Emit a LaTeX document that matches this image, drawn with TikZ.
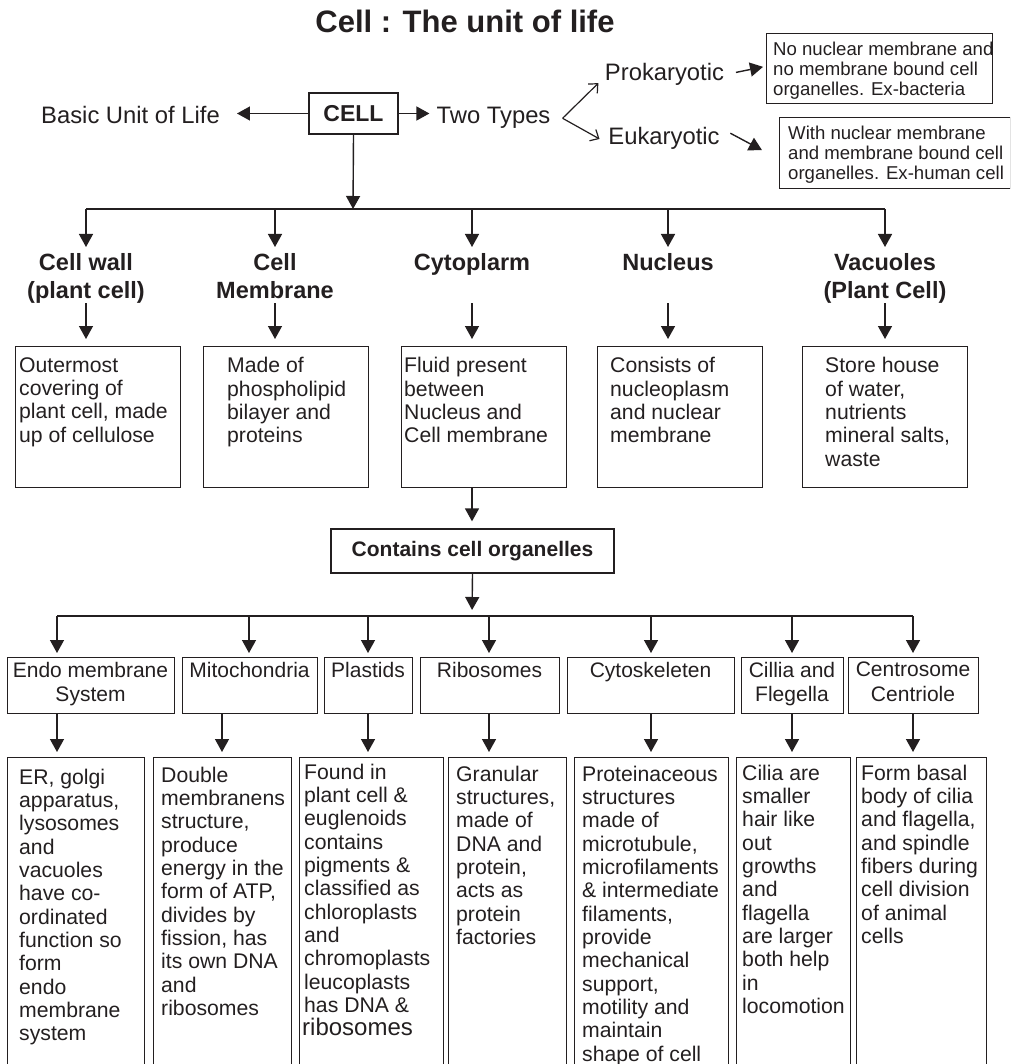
\documentclass[tikz,border=0pt]{standalone}
\usepackage{fontspec}
\setmainfont{Liberation Sans}
\usetikzlibrary{arrows.meta, positioning, calc}
\definecolor{inkDark}{RGB}{35,31,32}

\begin{document}
\begin{tikzpicture}[
    x=1pt, y=-1pt, color=inkDark,
    boxed/.style={draw=inkDark, line width=1.3pt, inner sep=0pt},
    wire/.style={draw=inkDark, line width=1.4pt},
    arr/.style={wire, -{Triangle[length=13pt, width=14pt]}},
    barb/.style={wire, line width=1.2pt, -{Straight Barb[length=7pt, width=13pt]}},
    lbl/.style={inner sep=0pt, font=\fontsize{23.8}{28}\selectfont},
    hd/.style={inner sep=0pt, align=center, font=\bfseries\fontsize{23.5}{28}\selectfont},
    note/.style={inner sep=0pt, align=left, anchor=north west, font=\fontsize{18.6}{20.3}\selectfont},
    body/.style={inner sep=0pt, align=left, anchor=north west, font=\fontsize{21.2}{23.33}\selectfont},
    organ/.style={inner sep=0pt, align=center, anchor=north, font=\fontsize{21}{24.5}\selectfont}
]
\useasboundingbox (0,0) rectangle (1010,1064);
\clip (0,0) rectangle (1010,1064);

% title and top row
\node[inner sep=0pt, anchor=base, font=\bfseries\fontsize{31}{36}\selectfont] (ttl) at (465,33) {Cell : The unit of life};
\node[boxed, minimum width=89, minimum height=41, font=\bfseries\fontsize{23}{27}\selectfont] (cell) at (353.5,113.5) {CELL};
\node[lbl, anchor=base] (basic) at (130.5,124) {Basic Unit of Life};
\node[lbl, anchor=base] (two) at (493.5,124) {Two Types};
\node[lbl, anchor=base] (pro) at (664.5,81) {Prokaryotic};
\node[lbl, anchor=base] (eu) at (664,145) {Eukaryotic};
\node[boxed, anchor=north west, minimum width=226, minimum height=70] (probox) at (766,33) {};
\node[note] (protxt) at (773,41.4) {No nuclear membrane and\\no membrane bound cell\\organelles. Ex-bacteria};
\node[boxed, anchor=north west, minimum width=230.5, minimum height=71] (eubox) at (779,117) {};
\node[note] (eutxt) at (788,125.4) {With nuclear membrane\\and membrane bound cell\\organelles. Ex-human cell};

\draw[arr, shorten >=17pt] (cell.west) -- (cell.west -| basic.east);
\draw[arr, shorten >=7pt] (cell.east) -- (cell.east -| two.west);
\coordinate (fork) at ([xshift=12pt]two.east);
\draw[barb, shorten >=9pt] (fork) -- ([yshift=-2pt]pro.west);
\draw[barb, shorten >=10pt] (fork) -- ([yshift=-5pt]eu.west);
\draw[arr, shorten <=12pt, shorten >=1pt] (pro.east) -- ([xshift=-2pt, yshift=2pt]probox.west);
\draw[arr, shorten <=12pt] (eu.north east) -- ([xshift=-17pt, yshift=3pt]eubox.west);

% main parts of the cell
\coordinate (bus1) at (353,209);
\draw[arr] (cell.south) -- (bus1);
\foreach \nm/\x/\hd/\xl/\tx/\txt in {
  cw/86/{Cell wall\\(plant cell)}/15/19/{Outermost\\covering of\\plant cell, made\\up of cellulose},
  cm/275/{Cell\\Membrane}/203/227/{Made of\\phospholipid\\bilayer and\\proteins},
  cy/472/{Cytoplarm}/401/404/{Fluid present\\between\\Nucleus and\\Cell membrane},
  nu/668/{Nucleus}/597/610/{Consists of\\nucleoplasm\\and nuclear\\membrane},
  va/885/{Vacuoles\\(Plant Cell)}/802/825/{Store house\\of water,\\nutrients\\mineral salts,\\waste}}
{
   \node[hd, anchor=north] (\nm) at (\x,253) {\hd};
   \draw[arr, shorten >=6pt] (\x,0 |- bus1) -- (\nm.north);
   \node[boxed, anchor=north west, minimum width=165, minimum height=141] (\nm box) at (\xl,346) {};
   \node[body] (\nm txt) at (\tx,357.3) {\txt};
   \draw[arr, shorten >=7pt] (\x,0 |- cw.south) -- (\x,0 |- \nm box.north);
}
\draw[wire] (86,0 |- bus1) -- (885,0 |- bus1);

% organelles
\node[boxed, minimum width=283, minimum height=44, font=\bfseries\fontsize{21}{25}\selectfont] (org) at (472.5,551) {Contains cell organelles};
\draw[arr, shorten >=7pt] (cy |- cybox.south) -- (cy |- org.north);
\coordinate (bus2) at (472,616);
\draw[arr, shorten >=6pt] (org.south) -- (bus2);
\draw[wire] (57,0 |- bus2) -- (913,0 |- bus2);
\foreach \nm/\xl/\xr/\ax/\txt in {
  oa/7/174/57/{Endo membrane\\System}, ob/182/317/249/{Mitochondria},
  oc/324/412/368/{Plastids}, od/420/559/489/{Ribosomes},
  oe/567/734/651/{Cytoskeleten}, of/741/843/792/{Cillia and\\Flegella},
  og/848/978/913/{Centrosome\\Centriole}}
{
   \node[boxed, anchor=north west, minimum width=\xr-\xl, minimum height=56] (\nm) at (\xl,657) {};
   \node[organ] (\nm t) at ({(\xl+\xr)/2},662) {\txt};
   \draw[arr, shorten >=4pt] (\ax,0 |- bus2) -- (\ax,0 |- \nm.north);
}

% descriptions of organelles
\foreach \nm/\xl/\xr/\tx/\ty/\bx/\up/\txt in {
  bA/7/144/19/784/57/oa/{ER, golgi\\apparatus,\\lysosomes\\and\\vacuoles\\have co-\\ordinated\\function so\\form\\endo\\membrane\\system},
  bB/153/291/161/782/222/ob/{Double\\membranens\\structure,\\produce\\energy in the\\form of ATP,\\divides by\\fission, has\\its own DNA\\and\\ribosomes},
  bC/299/443/304/779/368/oc/{Found in\\plant cell \&\\euglenoids\\contains\\pigments \&\\classified as\\chloroplasts\\and\\chromoplasts\\leucoplasts\\has DNA \&\\\hspace*{-2pt}{\fontsize{24}{26}\selectfont ribosomes}},
  bD/448/566/456/781/489/od/{Granular\\structures,\\made of\\DNA and\\protein,\\acts as\\protein\\factories},
  bE/574/728/582/781/651/oe/{Proteinaceous\\structures\\made of\\microtubule,\\microfilaments\\\& intermediate\\filaments,\\provide\\mechanical\\support,\\motility and\\maintain\\shape of cell},
  bF/736/850/742/780/792/of/{Cilia are\\smaller\\hair like\\out\\growths\\and\\flagella\\are larger\\both help\\in\\locomotion},
  bG/856/986/861/780/913/og/{Form basal\\body of cilia\\and flagella,\\and spindle\\fibers during\\cell division\\of animal\\cells}}
{
   \node[boxed, anchor=north west, minimum width=\xr-\xl, minimum height=330] (\nm) at (\xl,757) {};
   \node[body] (\nm t) at (\tx,\ty-15.5) {\txt};
   \draw[arr, shorten >=5pt] (\bx,0 |- \up.south) -- (\bx,0 |- \nm.north);
}
\end{tikzpicture}
\end{document}
